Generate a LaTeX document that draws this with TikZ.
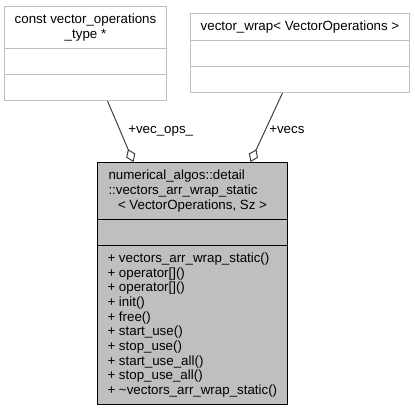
\documentclass[tikz,border=0pt]{standalone}
\usepackage{fontspec}
\setmainfont{Liberation Sans}
\usetikzlibrary{shapes,arrows.meta,calc}
\definecolor{grey75}{gray}{0.75}
\definecolor{grey25}{gray}{0.25}
\newcommand{\partbox}[3]{\parbox[c][#2][c]{#1}{#3}}

\begin{document}
\begin{tikzpicture}[x=0.75pt,y=-0.75pt]
      \useasboundingbox (0,0) rectangle (415,408);
      \tikzstyle{every node}=[font=\fontsize{10}{11}\selectfont]
      \tikzstyle{cls}=[rectangle split, rectangle split parts=3, draw=grey75, fill=white, inner sep=0pt, line width=0.75pt, anchor=north west]
      \tikzstyle{mainclass}=[cls, draw=black, fill=grey75]
      \tikzstyle{member}=[-{Diamond[open,length=10.5pt,width=7.5pt]}, draw=grey25, line width=0.75pt]
      \tikzstyle{lbl}=[inner sep=0pt, anchor=base west]
      \node[cls] (ops) at (4,6) {\partbox{121.5pt}{30.75pt}{\centering const vector\_operations\\\_type *}
        \nodepart{two} \partbox{121.5pt}{18.75pt}{}
        \nodepart{three} \partbox{121.5pt}{18.75pt}{}};
      \node[cls] (wrap) at (190,13) {\partbox{164.25pt}{19.5pt}{\centering vector\_wrap< VectorOperations >}
        \nodepart{two} \partbox{164.25pt}{18.75pt}{}
        \nodepart{three} \partbox{164.25pt}{18.75pt}{}};
      \node[mainclass] (main) at (97,162) {\partbox{142.5pt}{42pt}{\raggedright
          \hspace*{8.25pt}numerical\_algos::detail\\
          \hspace*{8.25pt}::vectors\_arr\_wrap\_static\\
          \makebox[\linewidth]{< VectorOperations, Sz >}}
        \nodepart{two} \partbox{142.5pt}{18.75pt}{}
        \nodepart{three} \partbox{142.5pt}{118.5pt}{\raggedright\leftskip=7.5pt
          + vectors\_arr\_wrap\_static()\\
          + operator[]()\\
          + operator[]()\\
          + init()\\
          + free()\\
          + start\_use()\\
          + stop\_use()\\
          + start\_use\_all()\\
          + stop\_use\_all()\\
          + \textasciitilde vectors\_arr\_wrap\_static()}};
      \draw[member] ($(ops.south)+(22,0)$) -- ($(main.north)+(-59,0)$);
      \draw[member] ($(wrap.south)+(-17.5,0)$) -- ($(main.north)+(58,0)$);
      \node[lbl] (lblops) at (128,133) {+vec\_ops\_};
      \node[lbl] (lblvecs) at (269,133) {+vecs};
\end{tikzpicture}
\end{document}
